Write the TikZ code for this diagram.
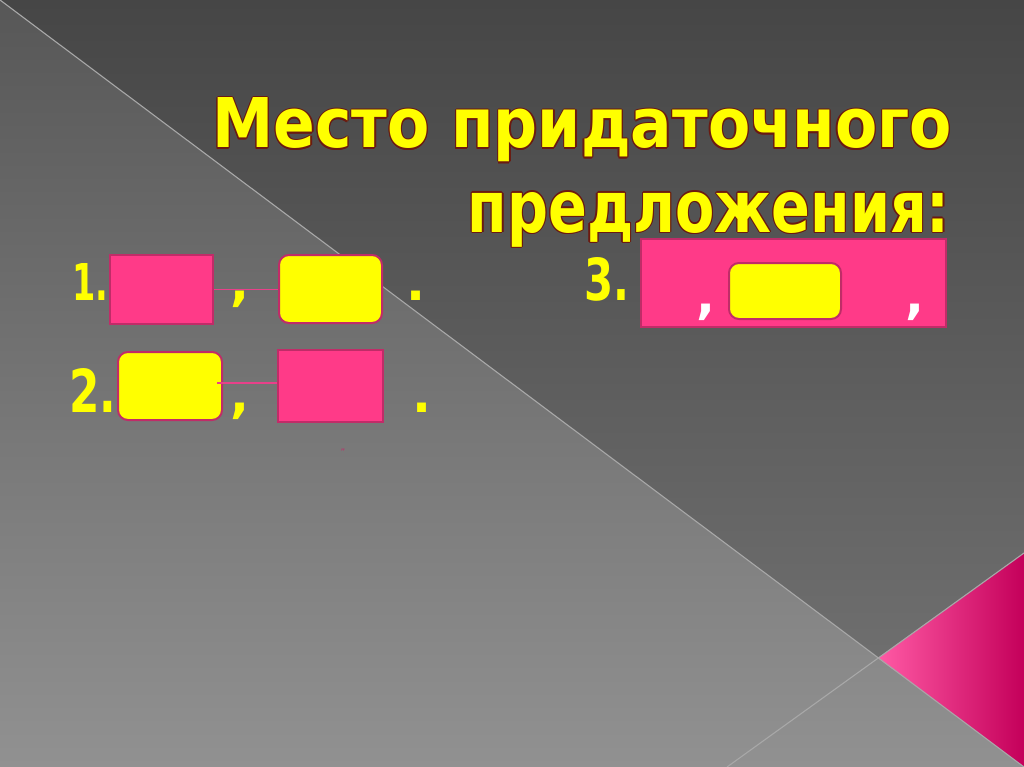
\documentclass[tikz,border=0pt]{standalone}
\usepackage{fontspec}
\setmainfont{DejaVu Sans}
\usepackage{graphicx}
\definecolor{bgLtop}{HTML}{575757}
\definecolor{bgLbot}{HTML}{919191}
\definecolor{bgRtop}{HTML}{464646}
\definecolor{bgRbot}{HTML}{757575}
\definecolor{rule}{HTML}{A8A8A8}
\definecolor{pinkL}{HTML}{FF5AA5}
\definecolor{pinkM}{HTML}{FF0A80}
\definecolor{pinkR}{HTML}{C4005A}
\definecolor{boxpink}{HTML}{FF3A88}
\definecolor{boxedge}{HTML}{C02C68}
\definecolor{boxyellow}{HTML}{FFFF00}
\definecolor{linkpink}{HTML}{E8408A}
\definecolor{titleedge}{HTML}{6B1A10}
\definecolor{txtyellow}{HTML}{FFFF00}
\newcommand\outlinedtitle[4]{%
  \foreach \ox/\oy in {-1.3/0,1.3/0,0/-1.3,0/1.3,-0.9/-0.9,0.9/0.9,-0.9/0.9,0.9/-0.9,-0.6/1.9}{%
    \node[titletext, text=titleedge] at (#2+\ox,#3+\oy) {#4};}
  \node[titletext] (#1) at (#2,#3) {#4};}
\tikzset{
  titletext/.style={inner sep=0pt, text=txtyellow, font=\bfseries, anchor=base east},
  pinkbox/.style={draw=boxedge, fill=boxpink, line width=2pt, inner sep=0pt},
  yellowbox/.style={draw=boxedge, fill=boxyellow, line width=2pt, rounded corners=10pt, inner sep=0pt},
  link/.style={draw=linkpink, line width=1.2pt},
  numtext/.style={inner sep=0pt, text=txtyellow, anchor=base west, font=\fontsize{55}{60}\selectfont\bfseries},
  punct/.style={inner sep=0pt, text=txtyellow, font=\fontsize{50}{60}\selectfont\bfseries},
  whitepunct/.style={inner sep=0pt, text=white, font=\fontsize{50}{60}\selectfont\bfseries},
  rulestyle/.style={draw=rule, line width=1.1pt}
}
\begin{document}
\begin{tikzpicture}[x=1pt,y=-1pt]
\useasboundingbox (0,0) rectangle (1024,767);
% background
\shade[top color=bgLtop, bottom color=bgLbot] (0,0) rectangle (1024,767);
\shade[top color=bgRtop, bottom color=bgRbot] (0,0) -- (1024,0) -- (1024,767) -- cycle;
\shade[left color=pinkL, middle color=pinkM, right color=pinkR] (878,658) -- (1024,553) -- (1024,767) -- cycle;
\draw[rulestyle] (0,0) -- (1024,767);
\draw[rulestyle] (727,767) -- (1024,553);
% title
\outlinedtitle{t1}{952}{148}{\resizebox{739pt}{50pt}{Место придаточного}}
\outlinedtitle{t2}{950}{232}{\resizebox{482pt}{40pt}{предложения:}}
% row 1
\node[pinkbox, minimum width=103pt, minimum height=69pt] (p1) at (161.5,289.5) {};
\node[yellowbox, minimum width=103pt, minimum height=68pt] (y1) at (330.5,289) {};
\draw[link] (p1.east) -- (p1.east -| y1.west);
\node[numtext] (n1) at (72,300) {\resizebox{36pt}{37pt}{1.}};
\node[punct] (c1) at (240,299) {,};
\node[punct] (d1) at (416,296) {.};
% row 2
\node[yellowbox, minimum width=104pt, minimum height=68pt] (y2) at (170,386) {};
\node[pinkbox, minimum width=105pt, minimum height=72pt] (p2) at (330.5,386) {};
\draw[link] ([xshift=-6pt]y2.east |- 0,383) -- (p2.west |- 0,383);
\node[numtext] (n2) at (69,412) {\resizebox{47pt}{44pt}{2.}};
\node[punct] (c2) at (240,411) {,};
\node[punct] (d2) at (422,408) {.};
\node[inner sep=0pt, text=boxedge, font=\fontsize{9}{10}\selectfont] (q) at (343,452) {''};
% row 3
\node[pinkbox, minimum width=305pt, minimum height=88pt] (p3) at (793.5,283) {};
\node[yellowbox, minimum width=112pt, minimum height=56pt] (y3) at (785,291) {};
\node[numtext] (n3) at (584,300) {\resizebox{45pt}{43pt}{3.}};
\node[whitepunct] (c3) at (706,312) {,};
\node[whitepunct] (c4) at (915,312) {,};
\end{tikzpicture}
\end{document}
